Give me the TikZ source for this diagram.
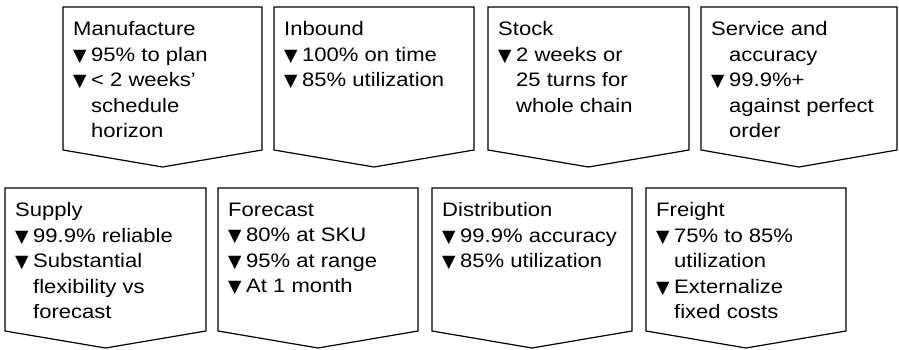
\documentclass[tikz,border=0pt]{standalone}
\usepackage{fontspec}
\setmainfont{Liberation Sans}[FakeStretch=1.13]
\newfontfamily\symf{DejaVu Sans}
\newcommand\bul{\makebox[18pt][l]{{\symf\fontsize{17.5}{17.5}\selectfont ▼}}}
\newcommand\ind{\hspace*{18pt}}
\tikzset{
  chev/.style={draw, line width=1.2pt, line join=miter},
  txt/.style={anchor=north west, inner sep=0pt, align=left,
    font=\fontsize{19.5}{25.5}\selectfont}
}
\newcommand\chevbox[5]{%
  \draw[chev] (#1,#2) -- ++(#3,0) -- ++(0,143) -- ++(-#3/2,17) -- ++(-#3/2,-17) -- cycle;
  \node[txt] (#4) at (#1+10,#2+14.5) {#5};}
\begin{document}
\begin{tikzpicture}[x=1pt,y=-1pt]
\useasboundingbox (0,0) rectangle (899,350);
\chevbox{63}{7}{199}{manu}{Manufacture\\\bul 95\% to plan\\\bul < 2 weeks’\\\ind schedule\\\ind horizon}
\chevbox{274}{7}{200}{inb}{Inbound\\\bul 100\% on time\\\bul 85\% utilization}
\chevbox{488}{7}{201}{stock}{Stock\\\bul 2 weeks or\\\ind 25 turns for\\\ind whole chain}
\chevbox{701}{7}{196}{serv}{Service and\\\ind accuracy\\\bul 99.9\%+\\\ind against perfect\\\ind order}
\chevbox{5}{188}{201}{supp}{Supply\\\bul 99.9\% reliable\\\bul Substantial\\\ind flexibility vs\\\ind forecast}
\chevbox{218}{188}{200}{fore}{Forecast\\\bul 80\% at SKU\\\bul 95\% at range\\\bul At 1 month}
\chevbox{432}{188}{200}{dist}{Distribution\\\bul 99.9\% accuracy\\\bul 85\% utilization}
\chevbox{646}{188}{200}{frei}{Freight\\\bul 75\% to 85\%\\\ind utilization\\\bul Externalize\\\ind fixed costs}
\end{tikzpicture}
\end{document}
